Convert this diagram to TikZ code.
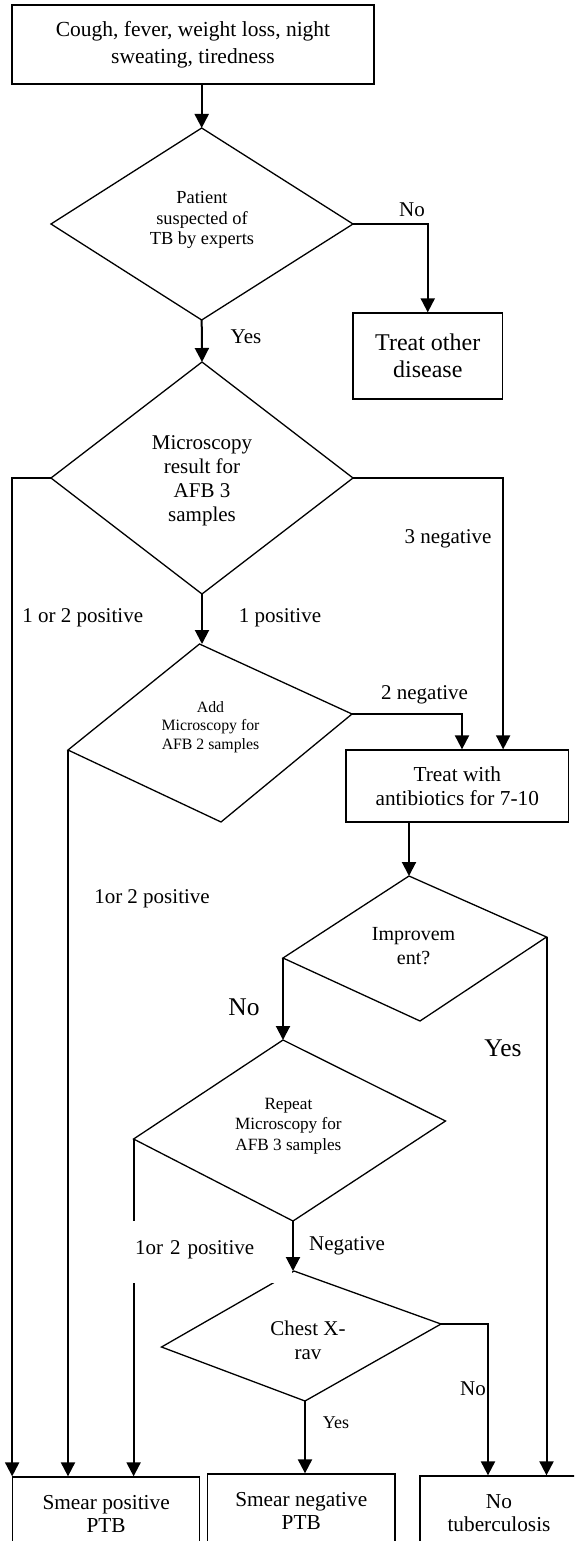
\documentclass[tikz,border=0pt]{standalone}
\usepackage{fontspec}
\setmainfont{Liberation Serif}
\usetikzlibrary{arrows.meta,calc}
\tikzset{
  box/.style={draw, line width=1.3pt, align=center, inner sep=0pt},
  diam/.style={draw, line width=1.3pt, line join=miter},
  arr/.style={line width=2pt, -{Triangle[length=14pt,width=14pt]}},
  dtext/.style={align=center, inner sep=0pt},
  lbl/.style={font=\fontsize{21}{24}\selectfont, inner sep=0pt}
}
\begin{document}
\begin{tikzpicture}[x=1pt,y=-1pt]
\useasboundingbox (0,0) rectangle (574,1541);
\clip (0,0) rectangle (574,1541);

\node (signs) at (193,44.5) [box, minimum width=362pt, minimum height=79pt, font=\fontsize{21.5}{27}\selectfont] {Cough, fever, weight loss, night\\sweating, tiredness};
\node (other) at (427.75,356) [box, minimum width=149.5pt, minimum height=86pt, font=\fontsize{24}{27}\selectfont] {Treat other\\disease};
\node (treat) at (457.25,786) [box, minimum width=222.5pt, minimum height=72pt, font=\fontsize{21.3}{24}\selectfont] {Treat with\\antibiotics for 7-10};
\node (pos) at (106.15,1513.5) [box, minimum width=186.7pt, minimum height=73pt, font=\fontsize{21.3}{23}\selectfont] {Smear positive\\PTB};
\node (neg) at (301.25,1510.5) [box, minimum width=187.5pt, minimum height=73pt, font=\fontsize{21.3}{23}\selectfont] {Smear negative\\PTB};
\node (notb) at (499,1513.5) [box, minimum width=158pt, minimum height=75pt, font=\fontsize{21.3}{23}\selectfont] {No\\tuberculosis};

\coordinate (d1t) at (201.7,128); \coordinate (d1r) at (353,224); \coordinate (d1b) at (201.7,320); \coordinate (d1l) at (51,224);
\coordinate (d2t) at (202,362); \coordinate (d2r) at (353,478); \coordinate (d2b) at (202,594); \coordinate (d2l) at (51,478);
\coordinate (d3t) at (199.5,644); \coordinate (d3r) at (352,714); \coordinate (d3b) at (221,822); \coordinate (d3l) at (68,750);
\coordinate (d4t) at (409,876); \coordinate (d4r) at (546.5,937); \coordinate (d4b) at (420,1021); \coordinate (d4l) at (283,958);
\coordinate (d5t) at (283,1040); \coordinate (d5r) at (445.5,1121); \coordinate (d5b) at (293,1221); \coordinate (d5l) at (133.6,1139);
\coordinate (d6t) at (294,1271); \coordinate (d6r) at (441,1324); \coordinate (d6b) at (305,1401); \coordinate (d6l) at (161.5,1347);
\foreach \d in {d1,d2,d3,d4,d5,d6}
  \draw[diam] (\d t) -- (\d r) -- (\d b) -- (\d l) -- cycle;

\node (suspect) at (202,220) [dtext, font=\fontsize{18.4}{20.5}\selectfont] {Patient\\suspected of\\TB by experts};
\node (afb3) at (202,481) [dtext, font=\fontsize{21}{24}\selectfont] {Microscopy\\result for\\AFB 3\\samples};
\node (afb2) at (210.5,727) [dtext, font=\fontsize{15.8}{18.3}\selectfont] {Add\\Microscopy for\\AFB 2 samples};
\node (improve) at (413.6,946) [dtext, font=\fontsize{20}{24}\selectfont] {Improvem\\ent?};
\node (repeat) at (288.4,1126) [dtext, font=\fontsize{17.2}{20.5}\selectfont] {Repeat\\Microscopy for\\AFB 3 samples};
\node (xray) at (308,1340) [dtext, font=\fontsize{21}{24}\selectfont] {Chest X-\\rav};

\draw[arr] (d1t |- signs.south) -- (d1t);
\draw[arr] (d1r) -| (other.north);
\draw[arr] (d1b) -- (d2t);
\draw[arr] (d2l) -| (pos.north west);
\draw[arr] (d2r) -| (other.east |- treat.north);
\draw[arr] (d2b) -- (d2b |- d3t);
\draw[arr] (d3l) -- (d3l |- pos.north);
\draw[arr] (d3r) -| ([xshift=4.75pt]treat.north);
\draw[arr] (d4t |- treat.south) -- (d4t);
\draw[arr] (d4l) -- (d5t);
\draw[arr] (d4r) -- (d4r |- notb.north);
\draw[arr] (d5l) -- (d5l |- pos.north);
\draw[arr] (d6b) -- (d6b |- neg.north);
\draw[arr] (d6r) -| ([xshift=-11pt]notb.north);

\node (no1) at (412,210) [lbl] {No};
\node (yes1) at (246,337) [lbl] {Yes};
\node (pos12a) at (82.7,618) [lbl] {1 or 2 positive};
\node (neg3) at (448,539) [lbl] {3 negative};
\node (pos1) at (280,618) [lbl] {1 positive};
\node (neg2) at (424.6,695) [lbl] {2 negative};
\node (pos12b) at (152,899) [lbl] {1or 2 positive};
\node (no2) at (244,1007) [lbl, font=\fontsize{25.5}{28}\selectfont] {No};
\node (yes2) at (503,1048) [lbl, font=\fontsize{25.5}{28}\selectfont] {Yes};
\node (negative) at (347,1246) [lbl] {Negative};
\node (yes3) at (336,1423) [lbl, font=\fontsize{18}{20}\selectfont] {Yes};
\node (no3) at (473,1389) [lbl] {No};
\node (pos12c) at (131,1221) [lbl, anchor=north west, fill=white, inner xsep=4pt, inner ysep=0pt, text width=153pt, align=left, text height=33pt, text depth=29pt] {1or 2 positive};
\draw[arr] (d5b) -- (d5b |- d6t);
\end{tikzpicture}
\end{document}
